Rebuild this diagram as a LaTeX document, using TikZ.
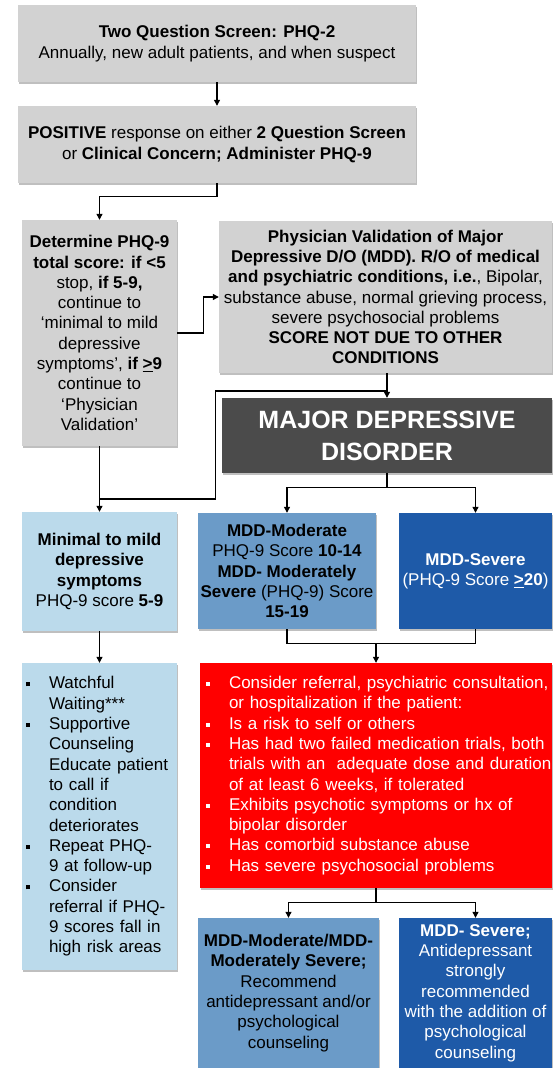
\documentclass[tikz,border=0pt]{standalone}
\usepackage{fontspec}
\setmainfont{Liberation Sans}
\usepackage{xcolor}
\usetikzlibrary{arrows.meta,shadows}

\definecolor{boxgray}{HTML}{D2D2D2}
\definecolor{mddgray}{HTML}{4B4B4B}
\definecolor{paleblue}{HTML}{BBDAEB}
\definecolor{midblue}{HTML}{6B9BC8}
\definecolor{deepblue}{HTML}{1E5AA8}
\definecolor{alertred}{HTML}{FF0000}

\newcommand{\bul}[1]{\mbox{\makebox[23pt][l]{\raisebox{2.6pt}{\rule{4pt}{4pt}}}#1}}
\newcommand{\ind}[1]{\mbox{\hspace*{23pt}#1}}

\tikzset{
  box/.style={inner sep=0pt, align=center, font=\fontsize{17}{20.3}\selectfont,
    drop shadow={shadow xshift=1.2pt, shadow yshift=-1.6pt, opacity=.25, fill=black}},
  graybox/.style={box, fill=boxgray},
  listbox/.style={box, align=left, inner xsep=4pt},
  arr/.style={line width=1.1pt, -{Triangle[length=6pt,width=6pt]}},
  link/.style={line width=1.1pt}
}

\begin{document}
\begin{tikzpicture}[x=1pt, y=-1pt]
  \useasboundingbox (0,0) rectangle (554,1068);
  % Screening boxes
  \node[graybox, minimum width=398pt, minimum height=77pt] (PHQtwo) at (217,43.5)
    {\textbf{Two Question Screen: PHQ-2}\\Annually, new adult patients, and when suspect};
  \node[graybox, minimum width=398pt, minimum height=77pt] (Pos) at (217,144.5)
    {\textbf{POSITIVE} response on either \textbf{2 Question Screen}\\or \textbf{Clinical Concern; Administer PHQ-9}};
  % Score and validation
  \node[graybox, minimum width=155pt, minimum height=226pt] (Score) at (99.5,333)
    {\textbf{Determine PHQ-9}\\\textbf{total score: if <5}\\stop, \textbf{if 5-9,}\\continue to\\‘minimal to mild\\depressive\\symptoms’, \textbf{if \underline{>}9}\\continue to\\‘Physician\\Validation’};
  \node[graybox, minimum width=333pt, minimum height=152pt] (Valid) at (385.5,297)
    {\textbf{Physician Validation of Major}\\\textbf{Depressive D/O (MDD). R/O of medical}\\\textbf{and psychiatric conditions, i.e.}, Bipolar,\\substance abuse, normal grieving process,\\severe psychosocial problems\\\textbf{SCORE NOT DUE TO OTHER}\\\textbf{CONDITIONS}};
  \node[box, fill=mddgray, text=white, minimum width=330pt, minimum height=75pt,
    font=\fontsize{25}{32}\selectfont\bfseries] (MDD) at (387,435.5)
    {MAJOR DEPRESSIVE\\DISORDER};
  % Severity boxes
  \node[box, fill=paleblue, minimum width=155pt, minimum height=119pt] (Mild) at (99.5,571.5)
    {\textbf{Minimal to mild}\\\textbf{depressive}\\\textbf{symptoms}\\PHQ-9 score \textbf{5-9}};
  \node[box, fill=midblue, minimum width=178pt, minimum height=116pt] (Mod) at (287,571)
    {\textbf{MDD-Moderate}\\PHQ-9 Score \textbf{10-14}\\\textbf{MDD- Moderately}\\\textbf{Severe} (PHQ-9) Score\\\textbf{15-19}};
  \node[box, fill=deepblue, text=white, minimum width=153pt, minimum height=116pt] (Sev) at (475.5,571)
    {\textbf{MDD-Severe}\\(PHQ-9 Score \textbf{\underline{>}20})};
  % Actions
  \node[listbox, fill=paleblue, text width=147pt, minimum height=307pt] (Watch) at (99.5,816.5)
    {\bul{Watchful}\\\ind{Waiting***}\\\bul{Supportive}\\\ind{Counseling}\\\ind{Educate patient}\\\ind{to call if}\\\ind{condition}\\\ind{deteriorates}\\\bul{Repeat PHQ-}\\\ind{9 at follow-up}\\\bul{Consider}\\\ind{referral if PHQ-}\\\ind{9 scores fall in}\\\ind{high risk areas}};
  \node[listbox, fill=alertred, text=white, inner xsep=6pt, text width=340pt, minimum height=225pt] (Refer) at (376,775.5)
    {\bul{Consider referral, psychiatric consultation,}\\\ind{or hospitalization if the patient:}\\\bul{Is a risk to self or others}\\\bul{Has had two failed medication trials, both}\\\ind{trials with an\ \ adequate dose and duration}\\\ind{of at least 6 weeks, if tolerated}\\\bul{Exhibits psychotic symptoms or hx of}\\\ind{bipolar disorder}\\\bul{Has comorbid substance abuse}\\\bul{Has severe psychosocial problems}};
  \node[box, fill=midblue, minimum width=181pt, minimum height=150pt] (ModRx) at (288.5,993)
    {\textbf{MDD-Moderate/MDD-}\\\textbf{Moderately Severe;}\\Recommend\\antidepressant and/or\\psychological\\counseling};
  \node[box, fill=deepblue, text=white, minimum width=153pt, minimum height=150pt] (SevRx) at (475.5,993)
    {\textbf{MDD- Severe;}\\Antidepressant\\strongly\\recommended\\with the addition of\\psychological\\counseling};
  % Connectors
  \draw[arr] (PHQtwo) -- (Pos);
  \draw[arr] (Pos.south) -- ++(0,13) -| (Score.north);
  \draw[arr] (Score.east) -- ++(26,0) |- (Valid.west);
  \coordinate (split) at (MDD.north |- 0,391);
  \draw[arr] (Valid.south -| MDD.north) -- (MDD.north);
  \draw[arr] (Score.south) -- (Mild.north);
  \coordinate (join) at (215.5,499);
  \draw[link] (split) -| (join) -- (join -| Mild.north);
  \draw[link] (MDD.south) -- ++(0,14) coordinate (fork1);
  \draw[arr] (fork1) -| (Mod.north);
  \draw[arr] (fork1) -| (Sev.north);
  \draw[arr] (Mild) -- (Watch);
  \draw[link] (Mod.south) -- ++(0,14) -| (Sev.south);
  \draw[arr] (Refer.north |- 0,643) -- (Refer.north);
  \draw[link] (Refer.south) -- ++(0,14) coordinate (fork2);
  \draw[arr] (fork2) -| (ModRx.north);
  \draw[arr] (fork2) -| (SevRx.north);
\end{tikzpicture}
\end{document}
